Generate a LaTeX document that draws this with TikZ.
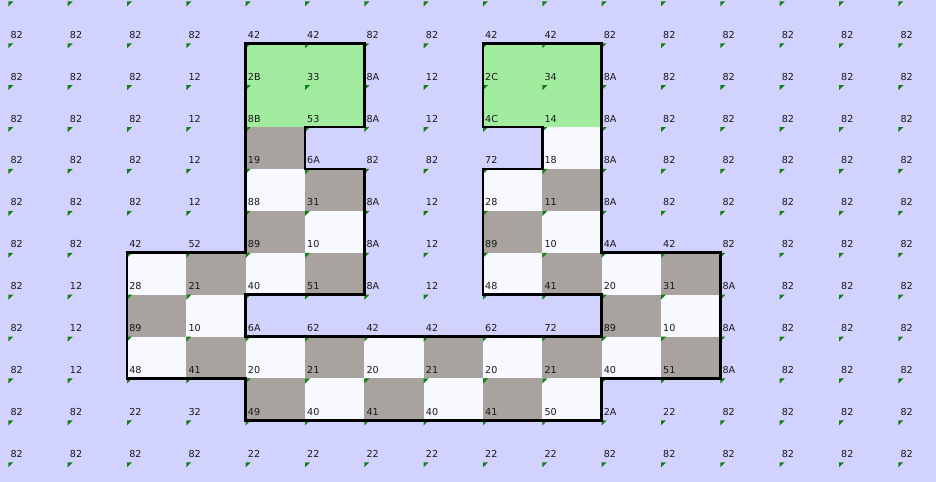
\documentclass[tikz,border=0pt]{standalone}
\usepackage{fontspec}
\setmainfont{DejaVu Sans}
\definecolor{gridbg}{RGB}{210,210,255}
\definecolor{cellwhite}{RGB}{248,248,255}
\definecolor{cellgray}{RGB}{168,163,158}
\definecolor{cellgreen}{RGB}{162,236,160}
\definecolor{markgreen}{RGB}{16,128,16}
\begin{document}
\begin{tikzpicture}[x=59.33pt,y=-41.9pt,
    lab/.style={anchor=base west,inner sep=0pt,text=black!90,
                font=\fontsize{9.6}{10}\selectfont,xshift=2pt,yshift=5pt},
    wall/.style={line width=2.6pt,line join=miter}]
  % page
  \fill[gridbg] (-0.1416,-0.0334) rectangle (15.635,11.470);
  \useasboundingbox (-0.1416,-0.0334) rectangle (15.635,11.470);
  % inside of the two hooks
  \fill[cellwhite] (4,1) -- (6,1) -- (6,3) -- (5,3) -- (5,4) -- (6,4)
    -- (6,7) -- (4,7) -- (4,8) -- (10,8) -- (10,7) -- (8,7) -- (8,4)
    -- (9,4) -- (9,3) -- (8,3) -- (8,1) -- (10,1) -- (10,6) -- (12,6)
    -- (12,9) -- (10,9) -- (10,10) -- (4,10) -- (4,9) -- (2,9) -- (2,6)
    -- (4,6) -- cycle;
  % green cells
  \foreach \x/\y in {4/1,5/1,4/2,5/2,8/1,9/1,8/2,9/2}{
    \fill[cellgreen] (\x,\y) rectangle ++(1,1);
  }
  % gray cells
  \foreach \x/\y in {4/3,5/4,4/5,3/6,5/6,2/7,3/8,5/8,7/8,4/9,6/9,8/9,
                     9/4,8/5,9/6,11/6,10/7,9/8,11/8}{
    \fill[cellgray] (\x,\y) rectangle ++(1,1);
  }
  % corner marks
  \foreach \i in {0,...,15}{
    \foreach \j in {0,...,11}{
      \fill[markgreen] (\i,\j) -- ++(5pt,0pt) -- ++(-5pt,-5pt) -- cycle;
    }
  }
  % values
  \foreach \labrow [count=\j] in {
      {82,82,82,82,42,42,82,82,42,42,82,82,82,82,82,82},
      {82,82,82,12,2B,33,8A,12,2C,34,8A,82,82,82,82,82},
      {82,82,82,12,8B,53,8A,12,4C,14,8A,82,82,82,82,82},
      {82,82,82,12,19,6A,82,82,72,18,8A,82,82,82,82,82},
      {82,82,82,12,88,31,8A,12,28,11,8A,82,82,82,82,82},
      {82,82,42,52,89,10,8A,12,89,10,4A,42,82,82,82,82},
      {82,12,28,21,40,51,8A,12,48,41,20,31,8A,82,82,82},
      {82,12,89,10,6A,62,42,42,62,72,89,10,8A,82,82,82},
      {82,12,48,41,20,21,20,21,20,21,40,51,8A,82,82,82},
      {82,82,22,32,49,40,41,40,41,50,2A,22,82,82,82,82},
      {82,82,82,82,22,22,22,22,22,22,82,82,82,82,82,82}}{
    \foreach \lab [count=\i from 0] in \labrow{
      \node[lab] (v\i-\j) at (\i,\j) {\lab};
    }
  }
  % outline
  \draw[wall] (4,1) -- (6,1) -- (6,3) -- (5,3) -- (5,4) -- (6,4)
    -- (6,7) -- (4,7) -- (4,8) -- (10,8) -- (10,7) -- (8,7) -- (8,4)
    -- (9,4) -- (9,3) -- (8,3) -- (8,1) -- (10,1) -- (10,6) -- (12,6)
    -- (12,9) -- (10,9) -- (10,10) -- (4,10) -- (4,9) -- (2,9) -- (2,6)
    -- (4,6) -- cycle;
\end{tikzpicture}
\end{document}
